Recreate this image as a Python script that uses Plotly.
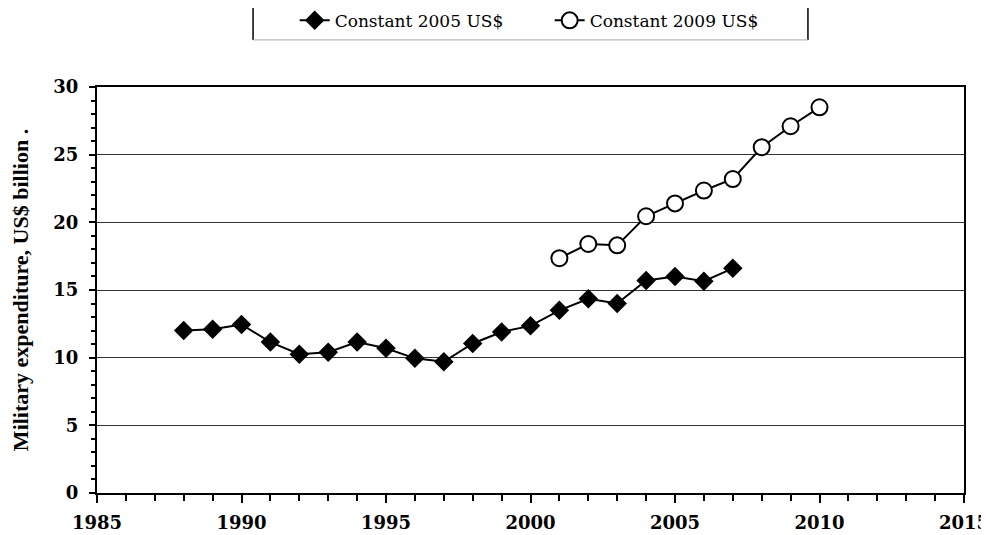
import plotly.graph_objects as go

years_2005 = list(range(1988, 2008))
values_2005 = [12.0, 12.1, 12.45, 11.15, 10.25, 10.4, 11.15, 10.7, 9.95, 9.7,
               11.05, 11.9, 12.35, 13.5, 14.35, 14.0, 15.7, 16.0, 15.65, 16.6]

years_2009 = list(range(2001, 2011))
values_2009 = [17.35, 18.4, 18.3, 20.45, 21.4, 22.35, 23.2, 25.55, 27.1, 28.5]

x_ticks = [1985, 1990, 1995, 2000, 2005, 2010, 2015]
y_ticks = [0, 5, 10, 15, 20, 25, 30]

serif = "Liberation Serif"
tickfamily = "DejaVu Serif"

fig = go.Figure()
fig.add_trace(go.Scatter(
    x=years_2005, y=values_2005, mode="lines+markers", name="Constant 2005 US$",
    line=dict(color="black", width=2),
    marker=dict(symbol="diamond", size=15, color="black"),
))
fig.add_trace(go.Scatter(
    x=years_2009, y=values_2009, mode="lines+markers", name="Constant 2009 US$",
    line=dict(color="black", width=2),
    marker=dict(symbol="circle", size=16, color="white", line=dict(color="black", width=2)),
))

fig.update_layout(
    width=981, height=527,
    margin=dict(l=89, r=25, t=79, b=42, autoexpand=False),
    paper_bgcolor="white", plot_bgcolor="white",
    showlegend=True,
    legend=dict(
        orientation="h", x=0.228, y=1.163, xanchor="left", yanchor="middle",
        font=dict(family="DejaVu Serif", size=17, color="black"),
        entrywidth=210, entrywidthmode="pixels",
        bgcolor="rgba(0,0,0,0)",
    ),
    xaxis=dict(
        range=[1985, 2015], tickvals=x_ticks, ticktext=[str(v) for v in x_ticks],
        showgrid=False, zeroline=False,
        showline=True, linecolor="black", linewidth=2, mirror=True,
        ticks="outside", ticklen=8, tickwidth=2, tickcolor="black",
        minor=dict(dtick=1, ticks="outside", ticklen=6, tickwidth=2, tickcolor="black"),
        tickfont=dict(family=tickfamily, size=18, color="black", weight="bold"),
        ticklabelstandoff=4, ticklabeloverflow="allow",
    ),
    yaxis=dict(
        range=[0, 30], tickvals=y_ticks, ticktext=[str(v) for v in y_ticks],
        showgrid=True, gridcolor="#333333", gridwidth=1, zeroline=False,
        showline=True, linecolor="black", linewidth=2, mirror=True,
        ticks="outside", ticklen=6, tickwidth=2, tickcolor="black",
        minor=dict(dtick=1, ticks="outside", ticklen=4, tickwidth=2, tickcolor="black", showgrid=False),
        tickfont=dict(family=tickfamily, size=18, color="black", weight="bold"),
        ticklabelstandoff=7, ticklabeloverflow="allow",
        title=dict(text="Military expenditure, US$ billion .", standoff=22,
                   font=dict(family=serif, size=22, color="black", weight="bold")),
    ),
    shapes=[
        dict(type="line", xref="paper", yref="paper", x0=0.18, x1=0.18, y0=1.116, y1=1.25,
             line=dict(color="black", width=1.5)),
        dict(type="line", xref="paper", yref="paper", x0=0.82, x1=0.82, y0=1.116, y1=1.25,
             line=dict(color="black", width=1.5)),
        dict(type="line", xref="paper", yref="paper", x0=0.18, x1=0.82, y0=1.116, y1=1.116,
             line=dict(color="#aaaaaa", width=1)),
    ],
)

fig.write_html("out.html")
